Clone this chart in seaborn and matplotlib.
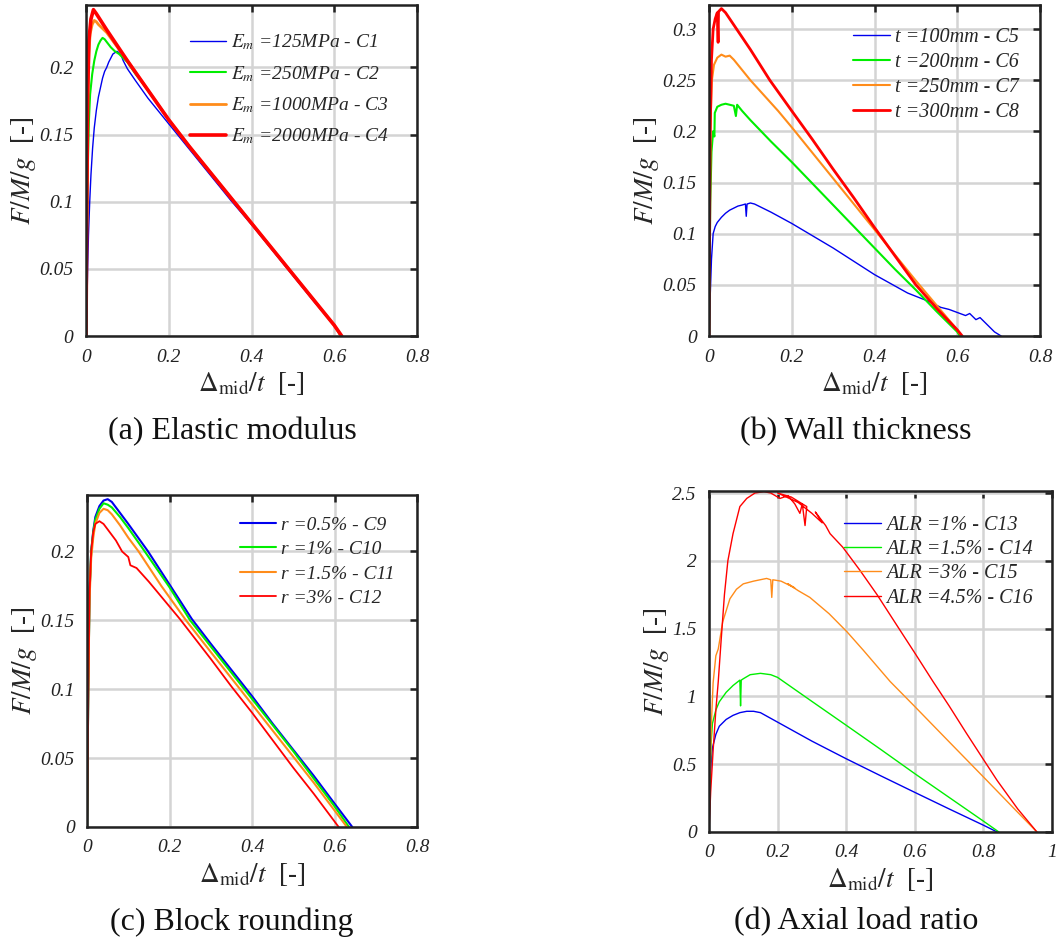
import matplotlib
matplotlib.use('Agg')
import numpy as np
import pandas as pd
import matplotlib.pyplot as plt
import seaborn as sns
from matplotlib.ticker import FuncFormatter
from matplotlib.font_manager import FontProperties


# (a) Elastic modulus
a_c1_x = [0, 0.002, 0.004, 0.006, 0.009, 0.012, 0.016, 0.02, 0.025, 0.03, 0.035, 0.04, 0.045, 0.05, 0.055,
          0.06, 0.065, 0.07, 0.075, 0.08, 0.085, 0.09, 0.1, 0.12, 0.15, 0.2, 0.25, 0.3, 0.35, 0.4, 0.45,
          0.5, 0.55, 0.6, 0.615]
a_c1_y = [0, 0.02, 0.05, 0.075, 0.1, 0.12, 0.14, 0.155, 0.168, 0.178, 0.185, 0.192, 0.197, 0.2, 0.204,
          0.207, 0.21, 0.211, 0.212, 0.211, 0.209, 0.205, 0.199, 0.19, 0.177, 0.158, 0.139, 0.12, 0.101,
          0.083, 0.064, 0.045, 0.026, 0.008, 0]
a_c2_x = [0, 0.002, 0.004, 0.007, 0.01, 0.015, 0.02, 0.025, 0.03, 0.035, 0.04, 0.045, 0.05, 0.06, 0.07,
          0.08, 0.1, 0.12, 0.15, 0.2, 0.25, 0.3, 0.35, 0.4, 0.45, 0.5, 0.55, 0.6, 0.616]
a_c2_y = [0, 0.06, 0.12, 0.16, 0.18, 0.195, 0.205, 0.212, 0.217, 0.22, 0.222, 0.221, 0.219, 0.215, 0.212,
          0.21, 0.204, 0.195, 0.183, 0.161, 0.141, 0.122, 0.103, 0.084, 0.065, 0.046, 0.027, 0.008, 0]
a_c3_x = [0, 0.002, 0.004, 0.007, 0.01, 0.015, 0.02, 0.025, 0.03, 0.04, 0.05, 0.1, 0.15, 0.2, 0.25, 0.3,
          0.35, 0.4, 0.45, 0.5, 0.55, 0.6, 0.617]
a_c3_y = [0, 0.1, 0.17, 0.21, 0.225, 0.232, 0.235, 0.234, 0.232, 0.229, 0.226, 0.205, 0.183, 0.161, 0.141,
          0.122, 0.103, 0.084, 0.065, 0.046, 0.027, 0.008, 0]
a_c4_x = [0, 0.002, 0.004, 0.007, 0.012, 0.018, 0.025, 0.05, 0.1, 0.15, 0.2, 0.25, 0.3, 0.35, 0.4, 0.45,
          0.5, 0.55, 0.6, 0.618]
a_c4_y = [0, 0.1, 0.18, 0.22, 0.236, 0.243, 0.24, 0.228, 0.205, 0.183, 0.161, 0.141, 0.122, 0.103, 0.084,
          0.065, 0.046, 0.027, 0.008, 0]

# (b) Wall thickness
b_c5_x = [0, 0.003, 0.006, 0.01, 0.015, 0.02, 0.03, 0.04, 0.05, 0.06, 0.07, 0.08, 0.088, 0.09, 0.092, 0.1,
          0.11, 0.12, 0.13, 0.15, 0.2, 0.25, 0.3, 0.35, 0.4, 0.44, 0.48, 0.53, 0.56, 0.58, 0.6, 0.62, 0.63,
          0.645, 0.655, 0.67, 0.69, 0.706]
b_c5_y = [0, 0.04, 0.075, 0.1, 0.107, 0.111, 0.116, 0.12, 0.123, 0.125, 0.127, 0.128, 0.129, 0.117, 0.129,
          0.13, 0.129, 0.127, 0.125, 0.121, 0.11, 0.098, 0.086, 0.073, 0.06, 0.051, 0.042, 0.034, 0.028,
          0.026, 0.023, 0.02, 0.022, 0.016, 0.018, 0.012, 0.004, 0]
b_c6_x = [0, 0.003, 0.006, 0.01, 0.013, 0.014, 0.02, 0.03, 0.04, 0.05, 0.06, 0.065, 0.068, 0.08, 0.1, 0.15,
          0.2, 0.25, 0.3, 0.35, 0.4, 0.45, 0.5, 0.55, 0.6, 0.606]
b_c6_y = [0, 0.13, 0.18, 0.2, 0.195, 0.218, 0.224, 0.226, 0.227, 0.226, 0.225, 0.215, 0.226, 0.22, 0.211,
          0.19, 0.17, 0.149, 0.128, 0.107, 0.086, 0.065, 0.045, 0.024, 0.004, 0]
b_c7_x = [0, 0.003, 0.007, 0.012, 0.02, 0.03, 0.04, 0.05, 0.06, 0.1, 0.167, 0.2, 0.25, 0.3, 0.35, 0.4,
          0.45, 0.5, 0.55, 0.6, 0.61]
b_c7_y = [0, 0.2, 0.25, 0.265, 0.272, 0.275, 0.273, 0.274, 0.27, 0.25, 0.22, 0.204, 0.179, 0.154, 0.129,
          0.104, 0.079, 0.054, 0.03, 0.006, 0]
b_c8_x = [0, 0.003, 0.006, 0.01, 0.015, 0.02, 0.022, 0.023, 0.03, 0.04, 0.06, 0.1, 0.147, 0.2, 0.25, 0.3,
          0.35, 0.4, 0.45, 0.5, 0.55, 0.6, 0.612]
b_c8_y = [0, 0.2, 0.27, 0.3, 0.31, 0.316, 0.287, 0.317, 0.32, 0.316, 0.304, 0.28, 0.25, 0.22, 0.192, 0.163,
          0.135, 0.106, 0.078, 0.05, 0.027, 0.006, 0]

# (c) Block rounding
c_c9_x = [0, 0.003, 0.006, 0.01, 0.015, 0.02, 0.03, 0.04, 0.05, 0.06, 0.08, 0.1, 0.148, 0.2, 0.254, 0.3,
          0.35, 0.4, 0.45, 0.5, 0.55, 0.6, 0.643]
c_c9_y = [0, 0.1, 0.17, 0.2, 0.215, 0.225, 0.233, 0.237, 0.238, 0.236, 0.228, 0.22, 0.2, 0.176, 0.151,
          0.133, 0.114, 0.095, 0.075, 0.056, 0.037, 0.017, 0]
c_c10_x = [0, 0.003, 0.006, 0.01, 0.015, 0.02, 0.03, 0.04, 0.05, 0.06, 0.08, 0.1, 0.14, 0.2, 0.25, 0.3,
           0.35, 0.4, 0.45, 0.5, 0.55, 0.6, 0.635]
c_c10_y = [0, 0.1, 0.17, 0.2, 0.214, 0.223, 0.231, 0.235, 0.234, 0.232, 0.225, 0.217, 0.2, 0.174, 0.15,
          0.131, 0.112, 0.093, 0.074, 0.055, 0.035, 0.015, 0]
c_c11_x = [0, 0.003, 0.006, 0.01, 0.015, 0.02, 0.03, 0.04, 0.05, 0.06, 0.08, 0.1, 0.125, 0.18, 0.24, 0.3,
           0.35, 0.4, 0.45, 0.5, 0.55, 0.6, 0.63]
c_c11_y = [0, 0.1, 0.165, 0.195, 0.21, 0.22, 0.228, 0.231, 0.23, 0.227, 0.219, 0.21, 0.2, 0.175, 0.15,
          0.127, 0.108, 0.089, 0.07, 0.051, 0.032, 0.012, 0]
c_c12_x = [0, 0.003, 0.006, 0.01, 0.015, 0.02, 0.03, 0.04, 0.05, 0.07, 0.085, 0.1, 0.105, 0.12, 0.15, 0.2,
           0.225, 0.3, 0.35, 0.4, 0.45, 0.5, 0.55, 0.6, 0.61]
c_c12_y = [0, 0.1, 0.17, 0.2, 0.214, 0.22, 0.222, 0.22, 0.216, 0.208, 0.2, 0.196, 0.19, 0.188, 0.178,
           0.16, 0.151, 0.122, 0.102, 0.083, 0.063, 0.043, 0.024, 0.004, 0]

# (d) Axial load ratio
d_c13_x = [0, 0.003, 0.006, 0.01, 0.02, 0.03, 0.05, 0.07, 0.09, 0.11, 0.13, 0.15, 0.2, 0.3, 0.4, 0.5, 0.6,
           0.7, 0.8, 0.84]
d_c13_y = [0, 0.3, 0.5, 0.62, 0.72, 0.78, 0.83, 0.86, 0.88, 0.89, 0.89, 0.88, 0.81, 0.67, 0.54, 0.415,
           0.292, 0.17, 0.05, 0]
d_c14_x = [0, 0.003, 0.006, 0.01, 0.02, 0.03, 0.05, 0.07, 0.09, 0.092, 0.094, 0.1, 0.12, 0.15, 0.18, 0.2,
           0.3, 0.4, 0.5, 0.6, 0.7, 0.8, 0.845]
d_c14_y = [0, 0.4, 0.65, 0.8, 0.9, 0.96, 1.03, 1.08, 1.12, 0.93, 1.12, 1.13, 1.16, 1.17, 1.16, 1.14,
           0.963, 0.787, 0.61, 0.43, 0.255, 0.08, 0]
d_c15_x = [0, 0.003, 0.007, 0.012, 0.02, 0.027, 0.04, 0.061, 0.08, 0.1, 0.13, 0.168, 0.18, 0.183, 0.186,
           0.21, 0.25, 0.23, 0.26, 0.294, 0.35, 0.402, 0.45, 0.528, 0.6, 0.7, 0.81, 0.9, 0.956]
d_c15_y = [0, 0.4, 0.8, 1.1, 1.3, 1.35, 1.55, 1.72, 1.79, 1.83, 1.85, 1.87, 1.86, 1.73, 1.86, 1.85, 1.8,
           1.83, 1.78, 1.73, 1.61, 1.477, 1.34, 1.11, 0.925, 0.665, 0.38, 0.145, 0]
d_c16_x = [0, 0.005, 0.012, 0.02, 0.027, 0.035, 0.045, 0.055, 0.07, 0.09, 0.11, 0.134, 0.16, 0.18, 0.207,
           0.23, 0.25, 0.265, 0.272, 0.28, 0.285, 0.24, 0.2, 0.26, 0.3, 0.33, 0.31, 0.34, 0.353, 0.39, 0.44,
           0.49, 0.55, 0.6, 0.653, 0.7, 0.75, 0.8, 0.84, 0.9, 0.956]
d_c16_y = [0, 0.3, 0.6, 0.9, 1.11, 1.4, 1.75, 2.0, 2.2, 2.4, 2.46, 2.5, 2.51, 2.5, 2.46, 2.48, 2.42, 2.35,
           2.42, 2.26, 2.4, 2.47, 2.5, 2.43, 2.35, 2.28, 2.36, 2.26, 2.2, 2.1, 1.93, 1.75, 1.515, 1.32, 1.11,
           0.93, 0.73, 0.535, 0.38, 0.17, 0]

a_labels = [r'$E_m$ =125MPa - C1', r'$E_m$ =250MPa - C2', r'$E_m$ =1000MPa - C3', r'$E_m$ =2000MPa - C4']
b_labels = ['t =100mm - C5', 't =200mm - C6', 't =250mm - C7', 't =300mm - C8']
c_labels = ['r =0.5% - C9', 'r =1% - C10', 'r =1.5% - C11', 'r =3% - C12']
d_labels = ['ALR =1% - C13', 'ALR =1.5% - C14', 'ALR =3% - C15', 'ALR =4.5% - C16']
captions = ['(a) Elastic modulus', '(b) Wall thickness', '(c) Block rounding', '(d) Axial load ratio']

colors = ['#0000ee', '#00ee00', '#ff8c1a', '#ff0000']

sns.set_theme(style='whitegrid')
plt.rcParams['font.family'] = ['Liberation Serif', 'DejaVu Serif']
plt.rcParams['mathtext.fontset'] = 'stix'


def fmt(v, pos):
    return '%g' % round(v, 4)


def draw_panel(ax, xs, ys, labels, widths, xmax, ymax, ystep, leg_anchor, leg_size, leg_space):
    for i in range(4):
        df = pd.DataFrame({'x': xs[i], 'y': ys[i]})
        sns.lineplot(data=df, x='x', y='y', ax=ax, sort=False, estimator=None, color=colors[i],
                     linewidth=widths[i], label=labels[i])
    ax.set_xlim(0, xmax)
    ax.set_ylim(0, ymax)
    ax.set_xticks(np.arange(0, xmax + 0.001, 0.2))
    ax.set_yticks(np.arange(0, ymax + 0.0001, ystep))
    ax.xaxis.set_major_formatter(FuncFormatter(fmt))
    ax.yaxis.set_major_formatter(FuncFormatter(fmt))
    ax.grid(True, color='#d4d4d4', linewidth=1.8)
    ax.tick_params(direction='in', length=5, width=1.8, top=True, right=True, labelsize=14, pad=9,
                   colors='#222222')
    for lab in ax.get_xticklabels() + ax.get_yticklabels():
        lab.set_fontstyle('italic')
    for sp in ax.spines.values():
        sp.set_color('#222222')
        sp.set_linewidth(1.8)
    ax.set_xlabel(r'$\Delta_{\rm mid}/t$  [-]', fontsize=19.5, labelpad=3)
    ax.set_ylabel(r'$F/M/g$  [-]', fontsize=19.5, labelpad=1)
    ax.legend(loc='upper left', bbox_to_anchor=leg_anchor, frameon=False, handlelength=1.85,
              handletextpad=0.25, labelspacing=leg_space, borderaxespad=0,
              prop=FontProperties(family='Liberation Serif', style='italic', size=leg_size))


fig = plt.figure(figsize=(10.59, 9.42), dpi=100)
ax_a = fig.add_axes([0.0812, 0.6433, 0.3126, 0.3514])
ax_b = fig.add_axes([0.6695, 0.6433, 0.3126, 0.3514])
ax_c = fig.add_axes([0.0822, 0.1221, 0.3116, 0.3524])
ax_d = fig.add_axes([0.6695, 0.1168, 0.3239, 0.3620])

draw_panel(ax_a, [a_c1_x, a_c2_x, a_c3_x, a_c4_x], [a_c1_y, a_c2_y, a_c3_y, a_c4_y], a_labels,
           [1.0, 1.5, 2.0, 2.6], 0.8, 0.2465, 0.05, (0.29, 0.94), 14, 0.6)
draw_panel(ax_b, [b_c5_x, b_c6_x, b_c7_x, b_c8_x], [b_c5_y, b_c6_y, b_c7_y, b_c8_y], b_labels,
           [1.0, 1.5, 1.5, 2.0], 0.8, 0.3235, 0.05, (0.41, 0.955), 14.5, 0.3)
draw_panel(ax_c, [c_c9_x, c_c10_x, c_c11_x, c_c12_x], [c_c9_y, c_c10_y, c_c11_y, c_c12_y], c_labels,
           [1.5, 1.5, 1.5, 1.3], 0.8, 0.241, 0.05, (0.44, 0.96), 14, 0.35)
draw_panel(ax_d, [d_c13_x, d_c14_x, d_c15_x, d_c16_x], [d_c13_y, d_c14_y, d_c15_y, d_c16_y], d_labels,
           [1.0, 1.0, 1.0, 1.0], 1.0, 2.515, 0.5, (0.37, 0.95), 14.5, 0.25)

cap_pos = [(232, 432), (856, 432), (232, 922), (856, 922)]
for i in range(4):
    fig.text(cap_pos[i][0] / 1059, 1 - cap_pos[i][1] / 942, captions[i], ha='center', va='center',
             fontsize=23, color='#111111')

fig.savefig('out.png', dpi=100)
